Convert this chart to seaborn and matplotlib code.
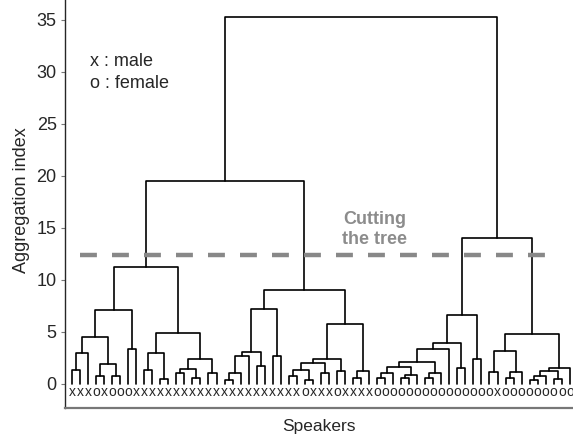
import pandas as pd
import numpy as np
import seaborn as sns
import matplotlib.pyplot as plt

sns.set_style("ticks")
plt.rcParams["font.family"] = ["Liberation Sans", "DejaVu Sans"]

# leaf labels, left to right (x = male, o = female)
speaker_sex = list(
    "xxxoxooo" + "x" * 21 + "o" + "xxx" + "o" + "xxxx" + "o" * 15 + "x" + "o" * 9
)

# each merge is (left, right, height); an int is a leaf position
c1a_left = (((0, 1, 1.3), 2, 2.95), ((3, 4, 0.77), (5, 6, 0.77), 1.92), 4.5)
cluster_1a = (c1a_left, (7, 8, 3.33), 7.1)

c1b_right = (((13, 14, 1.09), (15, 16, 0.54), 1.44), (17, 18, 1.02), 2.4)
cluster_1b = (((9, 10, 1.35), (11, 12, 0.45), 3.0), c1b_right, 4.87)

c2a_left = ((((19, 20, 0.38), 21, 1.09), 22, 2.7), (23, 24, 1.73), 3.1)
cluster_2a = (c2a_left, (25, 26, 2.72), 7.2)

c2b_left = ((((27, 28, 0.77), (29, 30, 0.38), 1.35), (31, 32, 1.09), 2.05),
            (33, 34, 1.25), 2.4)
cluster_2b = (c2b_left, ((35, 36, 0.54), 37, 1.25), 5.74)

c3a_low = ((((38, 39, 0.54), 40, 1.1), ((41, 42, 0.54), 43, 0.9), 1.67),
           ((44, 45, 0.54), 46, 1.1), 2.15)
c3a_mid = ((c3a_low, 47, 3.37), (48, 49, 1.57), 3.9)
cluster_3a = (c3a_mid, (50, 51, 2.4), 6.6)

c3b_left = ((52, 53, 1.19), ((54, 55, 0.54), 56, 1.15), 3.2)
c3b_right = ((((57, 58, 0.38), 59, 0.77), (60, 61, 0.45), 1.25), 62, 1.5)
cluster_3b = (c3b_left, c3b_right, 4.77)

top_heights = {"c1": 11.2, "c2": 9.04, "left": 19.5, "right": 14.0, "root": 35.3}
cut_height = 12.4

tree = (
    ((cluster_1a, cluster_1b, top_heights["c1"]),
     (cluster_2a, cluster_2b, top_heights["c2"]), top_heights["left"]),
    (cluster_3a, cluster_3b, top_heights["right"]),
    top_heights["root"],
)


def collect_links(node, rows):
    """Return (x, height) of node and append its U-shaped link to rows."""
    if isinstance(node, int):
        return float(node), 0.0
    left, right, h = node
    xl, hl = collect_links(left, rows)
    xr, hr = collect_links(right, rows)
    link = len(rows) // 4
    for x, y in [(xl, hl), (xl, h), (xr, h), (xr, hr)]:
        rows.append({"link": link, "x": x, "y": y})
    return (xl + xr) / 2, h


rows = []
collect_links(tree, rows)
links = pd.DataFrame(rows)

fig = plt.figure(figsize=(5.73, 4.38), dpi=100)
ax = fig.add_axes([65 / 573, 30 / 438, 1 - 65 / 573, 408 / 438])

sns.lineplot(data=links, x="x", y="y", units="link", estimator=None, sort=False,
             color="black", lw=1.2, ax=ax)

ax.plot([1.0, 59.8], [cut_height, cut_height], color="#888888", lw=3.2,
        dashes=(3.8, 3.4))
ax.text(37.7, 14.85, "Cutting\nthe tree", color="#8c8c8c", fontweight="bold",
        fontsize=13, ha="center", va="center", linespacing=1.22)

for i, s in enumerate(speaker_sex):
    ax.text(i, -0.8, s, ha="center", va="center", fontsize=10, clip_on=False)

ax.text(2.3, 31.0, "x : male", fontsize=13, va="center")
ax.text(2.3, 28.9, "o : female", fontsize=13, va="center")

ax.set_xlim(-0.87, 62.4)
ax.set_ylim(-2.31, 36.92)
ax.set_yticks(range(0, 40, 5))
ax.set_xticks([])
ax.tick_params(axis="y", labelsize=13, length=3, color="#777777", pad=3)
ax.set_xlabel("Speakers", fontsize=12.5)
ax.set_ylabel("Aggregation index", fontsize=13)
ax.xaxis.set_label_coords(0.5, -0.028)
ax.yaxis.set_label_coords(-0.068, 0.51)
sns.despine(ax=ax)
ax.spines["bottom"].set_color("#777777")
ax.spines["bottom"].set_linewidth(1.6)
ax.spines["left"].set_linewidth(1.0)

fig.savefig("out.png", dpi=100)
